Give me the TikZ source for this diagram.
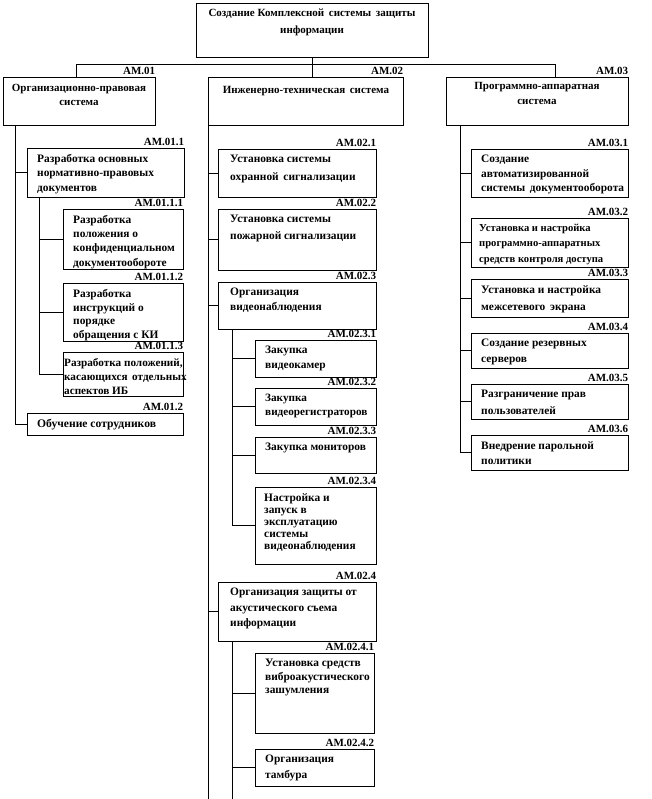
\documentclass[tikz,border=0pt]{standalone}
\usepackage{fontspec}
\setmainfont{Liberation Serif}
\usetikzlibrary{fit}
\tikzset{
  wbox/.style={draw, line width=0.8pt, inner sep=0pt},
  lbl/.style={anchor=south east, inner sep=0pt, font=\fontsize{11}{13}\selectfont\bfseries, yshift=1.5pt},
  txt/.style={anchor=north west, inner sep=0pt, align=left},
  ctxt/.style={anchor=north, inner sep=0pt, align=center},
  conn/.style={line width=0.8pt}
}
% #1 name, #2 x1, #3 y1, #4 x2, #5 y2, #6 label, #7 text, #8 {size}{skip}, #9 inset
\newcommand\wbsbox[9]{%
  \node[wbox, fit={(#2,#3) (#4,#5)}] (#1) {};
  \node[lbl] (#1l) at (#1.north east) {#6};
  \node[txt, font=\fontsize#8\selectfont\bfseries] (#1t) at (#2+#9,#3+6) {#7};
}
\begin{document}
\begin{tikzpicture}[x=1pt,y=-1pt]
\fill[white] (0,0) rectangle (651,799);
\useasboundingbox (0,0) rectangle (651,799);

% top
\node[wbox, fit={(196,3) (428,57)}] (top) {};
\node[ctxt, font=\fontsize{11}{17}\selectfont\bfseries] (topt) at (312,9) {Создание Комплексной\, системы\, защиты\\информации};

% level 1
\node[wbox, fit={(3,77) (155,125)}] (o1) {};
\node[lbl] (o1l) at (o1.north east) {АМ.01};
\node[ctxt, font=\fontsize{11}{14}\selectfont\bfseries] (o1t) at (79,84) {Организационно-правовая\\система};

\node[wbox, fit={(208,77) (403,125)}] (o2) {};
\node[lbl] (o2l) at (o2.north east) {АМ.02};
\node[ctxt, font=\fontsize{11}{14}\selectfont\bfseries] (o2t) at (306,86) {Инженерно-техническая\, система};

\node[wbox, fit={(446,77) (628,125)}] (o3) {};
\node[lbl] (o3l) at (o3.north east) {АМ.03};
\node[ctxt, font=\fontsize{11}{15}\selectfont\bfseries] (o3t) at (537,82) {Программно-аппаратная\\система};

% column 1
\wbsbox{o11}{27}{148}{184}{197}{АМ.01.1}{Разработка основных\\нормативно-правовых\\документов}{{11.4}{14.5}}{10}
\wbsbox{o111}{63}{209}{183}{269}{АМ.01.1.1}{Разработка\\положения о\\конфиденциальном\\документообороте}{{11.4}{14.3}}{10}
\wbsbox{o112}{63}{283}{183}{341}{АМ.01.1.2}{Разработка\\инструкций о\\порядке\\обращения с КИ}{{11.4}{13.7}}{10}
\wbsbox{o113}{63}{352}{183}{396}{АМ.01.1.3}{Разработка положений,\\касающихся\, отдельных\\аспектов ИБ}{{11.2}{14}}{1}
\wbsbox{o12}{27}{413}{183}{435}{АМ.01.2}{Обучение сотрудников}{{11.6}{14}}{10}

% column 2
\wbsbox{o21}{218}{149}{376}{197}{АМ.02.1}{Установка системы\\охранной\, сигнализации}{{11.4}{18}}{12}
\wbsbox{o22}{218}{209}{376}{270}{АМ.02.2}{Установка системы\\пожарной сигнализации}{{11.4}{17}}{12}
\wbsbox{o23}{218}{282}{376}{329}{АМ.02.3}{Организация\\видеонаблюдения}{{11.4}{15}}{12}
\wbsbox{o231}{255}{340}{376}{377}{АМ.02.3.1}{Закупка\\видеокамер}{{11.4}{15}}{10}
\wbsbox{o232}{255}{388}{376}{425}{АМ.02.3.2}{Закупка\\видеорегистраторов}{{11.2}{14}}{10}
\wbsbox{o233}{255}{437}{376}{473}{АМ.02.3.3}{Закупка мониторов}{{11.4}{14}}{10}
\wbsbox{o234}{255}{487}{376}{564}{АМ.02.3.4}{Настройка и\\запуск в\\эксплуатацию\\системы\\видеонаблюдения}{{11.4}{12}}{9}
\wbsbox{o24}{218}{582}{376}{641}{АМ.02.4}{Организация защиты от\\акустического съема\\информации}{{11.4}{15.5}}{12}
\wbsbox{o241}{255}{653}{374}{733}{АМ.02.4.1}{Установка средств\\виброакустического\\зашумления}{{11.4}{13.5}}{10}
\wbsbox{o242}{255}{749}{374}{786}{АМ.02.4.2}{Организация\\тамбура}{{11.4}{16}}{10}

% column 3
\wbsbox{o31}{471}{149}{628}{197}{АМ.03.1}{Создание\\автоматизированной\\системы\, документооборота}{{11.4}{14.5}}{10}
\wbsbox{o32}{471}{218}{628}{267}{АМ.03.2}{Установка и настройка\\программно-аппаратных\\средств контроля доступа}{{10.6}{15.5}}{8}
\wbsbox{o33}{471}{279}{628}{317}{АМ.03.3}{Установка и настройка\\межсетевого\, экрана}{{11.4}{17}}{10}
\wbsbox{o34}{471}{333}{628}{368}{АМ.03.4}{Создание резервных\\серверов}{{11.4}{16}}{10}
\wbsbox{o35}{471}{384}{628}{419}{АМ.03.5}{Разграничение прав\\пользователей}{{11.4}{17}}{10}
\wbsbox{o36}{471}{435}{628}{470}{АМ.03.6}{Внедрение парольной\\политики}{{11.4}{15}}{10}

% connectors: top level
\coordinate (hl) at (76,64);
\coordinate (hr) at (555,64);
\draw[conn] (top.south) -- (top.south |- o2.north);
\draw[conn] (hl |- o1.north) -- (hl) -- (hr) -- (hr |- o3.north);

% column 1
\coordinate (t1) at (15,0);
\coordinate (t11) at (39,0);
\draw[conn] (t1 |- o1.south) |- (o12.west);
\draw[conn] (o11.west) -- (o11.west -| t1);
\draw[conn] (t11 |- o11.south) |- (o113.west);
\draw[conn] (o111.west) -- (o111.west -| t11);
\draw[conn] (o112.west) -- (o112.west -| t11);

% column 2
\coordinate (t2) at (208,0);
\coordinate (t2end) at (208,799);
\coordinate (t23) at (232,0);
\coordinate (t24end) at (232,799);
\draw[conn] (t2 |- o2.south) -- (t2end);
\draw[conn] (o21.west) -- (o21.west -| t2);
\draw[conn] (o22.west) -- (o22.west -| t2);
\draw[conn] (o23.west) -- (o23.west -| t2);
\draw[conn] (o24.west) -- (o24.west -| t2);
\draw[conn] (t23 |- o23.south) |- (o234.west);
\draw[conn] (o231.west) -- (o231.west -| t23);
\draw[conn] (o232.west) -- (o232.west -| t23);
\draw[conn] (o233.west) -- (o233.west -| t23);
\draw[conn] (t23 |- o24.south) -- (t24end);
\draw[conn] (o241.west) -- (o241.west -| t23);
\draw[conn] (o242.west) -- (o242.west -| t23);

% column 3
\coordinate (t3) at (460,0);
\draw[conn] (t3 |- o3.south) |- (o36.west);
\draw[conn] (o31.west) -- (o31.west -| t3);
\draw[conn] (o32.west) -- (o32.west -| t3);
\draw[conn] (o33.west) -- (o33.west -| t3);
\draw[conn] (o34.west) -- (o34.west -| t3);
\draw[conn] (o35.west) -- (o35.west -| t3);
\end{tikzpicture}
\end{document}
